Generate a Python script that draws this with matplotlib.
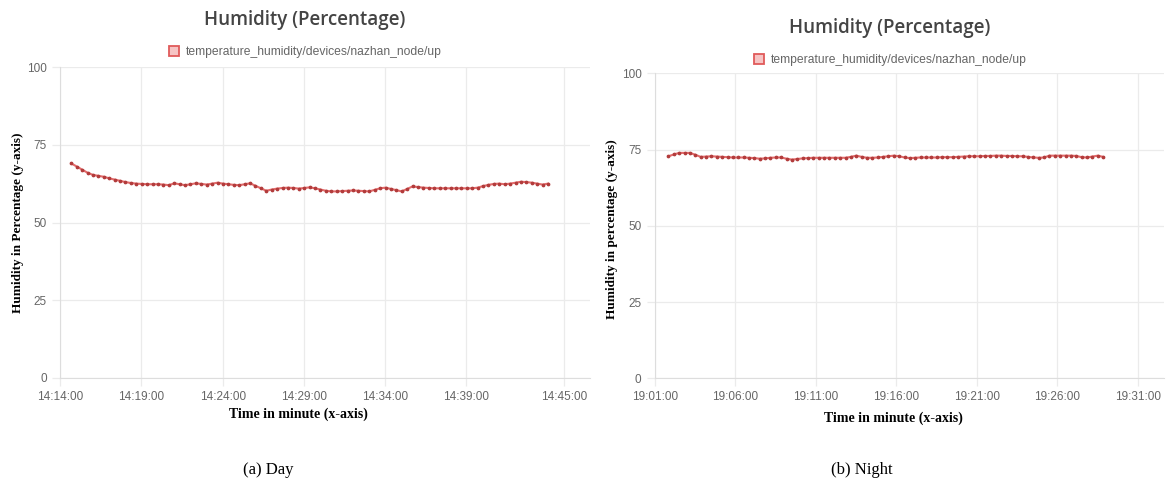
import matplotlib
matplotlib.use("Agg")
import matplotlib.pyplot as plt
import matplotlib.dates as mdates
from matplotlib.patches import Patch
import pandas as pd

# day readings, one uplink every 20 s
day_start = "2023-01-01 14:14:41"
day_humidity = [
    69.0, 68.0, 67.0, 66.0, 65.3, 65.0, 64.7, 64.2, 63.8, 63.4,
    63.0, 62.7, 62.5, 62.4, 62.3, 62.3, 62.3, 62.2, 62.0, 62.6,
    62.3, 62.0, 62.3, 62.6, 62.4, 62.2, 62.5, 62.8, 62.5, 62.3,
    62.1, 62.0, 62.3, 62.6, 61.8, 61.0, 60.2, 60.6, 60.9, 61.1,
    61.2, 61.1, 60.9, 61.1, 61.3, 61.0, 60.6, 60.2, 60.0, 60.0,
    60.1, 60.2, 60.3, 60.2, 60.1, 60.0, 60.5, 61.0, 61.2, 60.8,
    60.4, 60.0, 60.8, 61.6, 61.4, 61.2, 61.1, 61.0, 61.0, 61.0,
    61.0, 61.0, 61.0, 61.0, 61.0, 61.2, 61.7, 62.1, 62.4, 62.5,
    62.3, 62.5, 62.8, 63.1, 63.0, 62.8, 62.5, 62.2, 62.5,
]
day_ticks = ["14:14:00", "14:19:00", "14:24:00", "14:29:00",
             "14:34:00", "14:39:00", "14:45:00"]
day_xlim = ("14:14:00", "14:46:36")

# night readings
night_start = "2023-01-01 19:01:51"
night_humidity = [
    72.8, 73.4, 73.9, 73.9, 73.9, 73.3, 72.6, 72.7, 72.8, 72.7,
    72.6, 72.5, 72.4, 72.4, 72.4, 72.3, 72.2, 72.0, 72.1, 72.3,
    72.4, 72.4, 72.0, 71.7, 71.9, 72.1, 72.2, 72.3, 72.3, 72.3,
    72.3, 72.3, 72.3, 72.3, 72.6, 73.0, 72.6, 72.3, 72.3, 72.4,
    72.6, 72.8, 73.0, 72.8, 72.4, 72.2, 72.3, 72.4, 72.4, 72.4,
    72.4, 72.5, 72.5, 72.5, 72.6, 72.7, 72.8, 72.8, 72.8, 72.9,
    72.9, 73.0, 73.0, 72.9, 72.9, 72.8, 72.8, 72.6, 72.4, 72.3,
    72.4, 73.0, 73.0, 73.0, 73.0, 73.0, 72.9, 72.5, 72.4, 72.7,
    73.0, 72.6,
]
night_ticks = ["19:01:00", "19:06:00", "19:11:00", "19:16:00",
               "19:21:00", "19:26:00", "19:31:00"]
night_xlim = ("19:01:00", "19:32:38")

y_ticks = [0, 25, 50, 75, 100]
series_name = "temperature_humidity/devices/nazhan_node/up"

line_col = "#e36b6b"
dot_col = "#b23c3c"
grid_col = "#ebebeb"
tick_col = "#666666"

fig = plt.figure(figsize=(11.71, 4.88), dpi=100)
W, H = 1171, 488


def px_axes(x0, x1, y_top, y_bot):
    return fig.add_axes([x0 / W, (H - y_bot) / H, (x1 - x0) / W, (y_bot - y_top) / H])


def draw_panel(ax, start, values, ticks, xlim, ylabel, lab_xy, xlab_xy):
    t = pd.date_range(start, periods=len(values), freq="20s")
    day = start.split(" ")[0]
    ax.plot(t, values, color=line_col, lw=1.5, marker="o", ms=1.7,
            mfc=dot_col, mec=dot_col, zorder=3)
    ax.set_ylim(0, 100)
    ax.set_yticks(y_ticks)
    ax.set_xlim(pd.Timestamp(day + " " + xlim[0]), pd.Timestamp(day + " " + xlim[1]))
    ax.set_xticks([pd.Timestamp(day + " " + s) for s in ticks])
    ax.xaxis.set_major_formatter(mdates.DateFormatter("%H:%M:%S"))
    ax.grid(True, color=grid_col, lw=0.9)
    ax.set_axisbelow(True)
    for side in ["top", "right"]:
        ax.spines[side].set_visible(False)
    for side in ["left", "bottom"]:
        ax.spines[side].set_color("#dddddd")
    ax.tick_params(colors=grid_col, labelcolor=tick_col, labelsize=8.5,
                   length=6, width=0.9)
    for lbl in ax.get_xticklabels() + ax.get_yticklabels():
        lbl.set_family("Liberation Sans")
    ax.set_ylabel(ylabel, family="Liberation Serif", fontweight="bold", fontsize=9.5)
    ax.yaxis.set_label_coords(*lab_xy)
    ax.set_xlabel("Time in minute (x-axis)", family="Liberation Serif",
                  fontweight="bold", fontsize=10)
    ax.xaxis.set_label_coords(*xlab_xy)


ax1 = px_axes(60.2, 590, 67, 378)
draw_panel(ax1, day_start, day_humidity, day_ticks, day_xlim,
           "Humidity in Percentage (y-axis)", (-0.068, 0.5), (0.449, -0.095))

ax2 = px_axes(654.8, 1164, 73.3, 378.3)
draw_panel(ax2, night_start, night_humidity, night_ticks, night_xlim,
           "Humidity in percentage (y-axis)", (-0.072, 0.49), (0.468, -0.11))

# titles and legends
for cx, ty, ly in [(305, 20, 52), (890, 28, 60)]:
    fig.text(cx / W, 1 - ty / H, "Humidity (Percentage)", ha="center", va="center",
             family="Open Sans", fontweight="semibold", fontsize=13.5, color="#444444")
    handle = Patch(facecolor="#f6c4c4", edgecolor="#e05a5a", lw=1.3)
    fig.legend([handle], [series_name], loc="center",
               bbox_to_anchor=(cx / W, 1 - ly / H), frameon=False,
               handlelength=0.9, handleheight=0.9, handletextpad=0.5,
               prop={"family": "Liberation Sans", "size": 8.7}, labelcolor="#666666")

fig.text(268 / W, 1 - 470 / H, "(a) Day", ha="center", va="center",
         family="Liberation Serif", fontsize=12)
fig.text(862 / W, 1 - 470 / H, "(b) Night", ha="center", va="center",
         family="Liberation Serif", fontsize=12)

fig.savefig("out.png", dpi=100)
